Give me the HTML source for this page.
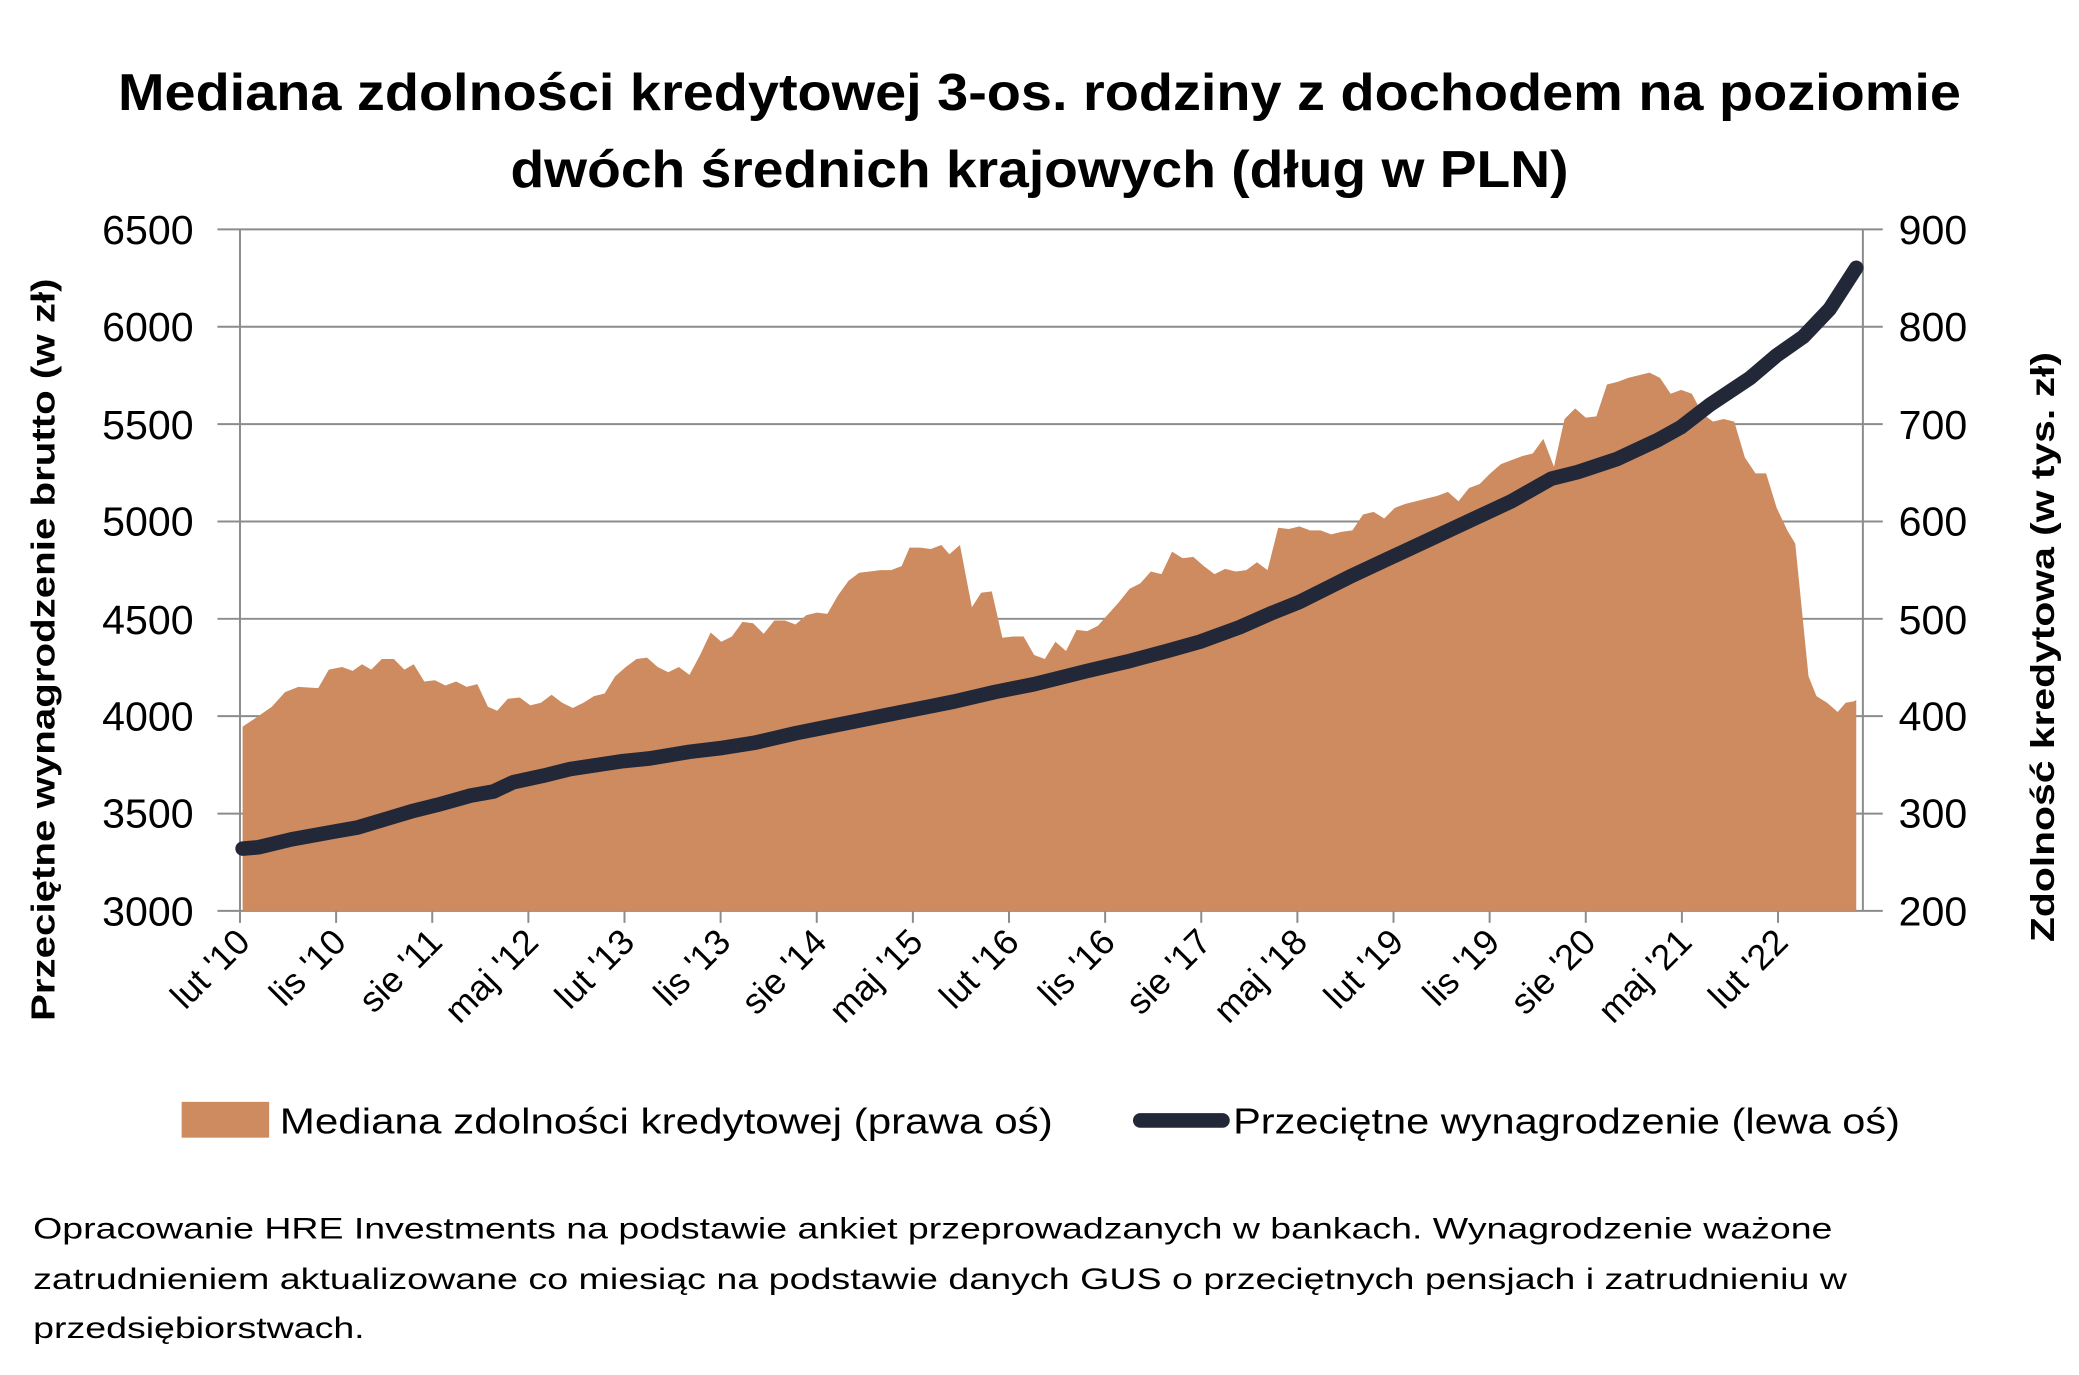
<!DOCTYPE html>
<html><head><meta charset="utf-8"><style>
html,body{margin:0;padding:0;background:#fff}
svg{display:block}
text{font-family:"Liberation Sans",sans-serif;fill:#000}
</style></head><body>
<svg width="2079" height="1375" viewBox="0 0 1568 1037" preserveAspectRatio="none" xmlns="http://www.w3.org/2000/svg">
<text x="784" y="83" font-size="39" font-weight="bold" text-anchor="middle" textLength="1390" lengthAdjust="spacingAndGlyphs">Mediana zdolności kredytowej 3-os. rodziny z dochodem na poziomie</text>
<text x="784" y="141" font-size="39" font-weight="bold" text-anchor="middle" textLength="798" lengthAdjust="spacingAndGlyphs">dwóch średnich krajowych (dług w PLN)</text>
<g stroke="#8c8c8c" stroke-width="1.5">
<line x1="164" y1="173" x2="1420" y2="173"/><line x1="164" y1="246.4" x2="1420" y2="246.4"/><line x1="164" y1="319.9" x2="1420" y2="319.9"/><line x1="164" y1="393.3" x2="1420" y2="393.3"/><line x1="164" y1="466.7" x2="1420" y2="466.7"/><line x1="164" y1="540.1" x2="1420" y2="540.1"/><line x1="164" y1="613.6" x2="1420" y2="613.6"/><line x1="164" y1="687" x2="1420" y2="687"/>
<line x1="181" y1="173" x2="181" y2="696"/><line x1="1405" y1="173" x2="1405" y2="687"/>
</g>
<g stroke="#8c8c8c" stroke-width="1.5">
<line x1="253.5" y1="687" x2="253.5" y2="696"/><line x1="326" y1="687" x2="326" y2="696"/><line x1="398.5" y1="687" x2="398.5" y2="696"/><line x1="471" y1="687" x2="471" y2="696"/><line x1="543.5" y1="687" x2="543.5" y2="696"/><line x1="616" y1="687" x2="616" y2="696"/><line x1="688.5" y1="687" x2="688.5" y2="696"/><line x1="761" y1="687" x2="761" y2="696"/><line x1="833.5" y1="687" x2="833.5" y2="696"/><line x1="906" y1="687" x2="906" y2="696"/><line x1="978.5" y1="687" x2="978.5" y2="696"/><line x1="1051" y1="687" x2="1051" y2="696"/><line x1="1123.5" y1="687" x2="1123.5" y2="696"/><line x1="1196" y1="687" x2="1196" y2="696"/><line x1="1268.5" y1="687" x2="1268.5" y2="696"/><line x1="1341" y1="687" x2="1341" y2="696"/>
</g>
<polygon fill="#cd8b5f" points="183,687 183,548 195,540 205,533 215,522 225,518 240,519 248,505 258,503 266,506 273,501 280,505 288,497 297,497 305,505 312,501 320,514 328,513 336,517 344,514 352,518 360,516 368,533 375,536 383,527 392,526 400,532 408,530 416,524 424,530 432,534 440,530 448,525 456,523 464,510 472,503 480,497 488,496 496,503 504,507 512,503 520,509 528,494 536,477 544,484 552,480 560,469 568,470 576,478 584,468 592,468 600,471 608,464 616,462 624,463 632,449 640,438 648,432 656,431 664,430 672,430 680,427 686,413 694,413 702,414 710,411 716,418 724,411 733,458 740,447 748,446 756,481 764,480 772,480 780,494 788,497 796,484 804,491 812,475 820,476 828,472 836,463 844,454 852,444 860,440 868,431 876,433 884,416 892,421 900,420 908,427 916,433 924,429 932,431 940,430 948,424 956,430 964,398 972,399 980,397 988,400 996,400 1004,403 1012,401 1020,400 1028,388 1036,386 1044,391 1052,383 1060,380 1068,378 1076,376 1084,374 1092,371 1100,378 1108,368 1116,365 1124,357 1132,350 1140,347 1148,344 1156,342 1164,331 1172,352 1180,316 1188,308 1196,315 1204,314 1212,290 1220,288 1228,285 1236,283 1244,281 1252,285 1260,297 1268,294 1276,297 1284,312 1292,318 1300,316 1308,318 1316,345 1324,357 1332,357 1340,383 1348,400 1354,410 1360,470 1364,510 1370,525 1378,530 1386,537 1392,530 1398,529 1400,528 1400,687"/>
<polyline fill="none" stroke="#222838" stroke-width="11" stroke-linecap="round" stroke-linejoin="round" points="183,640 195,639 220,633 253,627 270,624 290,618 310,612 330,607 355,600 372,597 387,590 410,585 430,580 450,577 470,574 490,572 520,567 545,564 570,560 600,553 620,549 650,543 680,537 700,533 720,529 750,522 780,516 820,506 850,499 880,491 905,484 935,473 960,462 980,454 1000,444 1020,434 1050,420 1080,406 1110,392 1140,378 1170,361 1190,356 1220,346 1250,332 1268,322 1290,305 1320,285 1340,268 1360,254 1380,233 1400,202"/>
<g font-size="31" text-anchor="end">
<text x="146" y="184">6500</text><text x="146" y="257">6000</text><text x="146" y="331">5500</text><text x="146" y="404">5000</text><text x="146" y="478">4500</text><text x="146" y="551">4000</text><text x="146" y="624">3500</text><text x="146" y="698">3000</text>
</g>
<g font-size="31">
<text x="1432" y="184">900</text><text x="1432" y="257">800</text><text x="1432" y="331">700</text><text x="1432" y="404">600</text><text x="1432" y="478">500</text><text x="1432" y="551">400</text><text x="1432" y="624">300</text><text x="1432" y="698">200</text>
</g>
<text transform="translate(41,490) rotate(-90)" font-size="25" font-weight="bold" text-anchor="middle" textLength="560" lengthAdjust="spacingAndGlyphs">Przeciętne wynagrodzenie brutto (w zł)</text>
<text transform="translate(1549,488) rotate(-90)" font-size="25" font-weight="bold" text-anchor="middle" textLength="445" lengthAdjust="spacingAndGlyphs">Zdolność kredytowa (w tys. zł)</text>
<g font-size="27" text-anchor="end">
<text transform="translate(190,712) rotate(-45)">lut '10</text>
<text transform="translate(262.5,712) rotate(-45)">lis '10</text>
<text transform="translate(335,712) rotate(-45)">sie '11</text>
<text transform="translate(407.5,712) rotate(-45)">maj '12</text>
<text transform="translate(480,712) rotate(-45)">lut '13</text>
<text transform="translate(552.5,712) rotate(-45)">lis '13</text>
<text transform="translate(625,712) rotate(-45)">sie '14</text>
<text transform="translate(697.5,712) rotate(-45)">maj '15</text>
<text transform="translate(770,712) rotate(-45)">lut '16</text>
<text transform="translate(842.5,712) rotate(-45)">lis '16</text>
<text transform="translate(915,712) rotate(-45)">sie '17</text>
<text transform="translate(987.5,712) rotate(-45)">maj '18</text>
<text transform="translate(1060,712) rotate(-45)">lut '19</text>
<text transform="translate(1132.5,712) rotate(-45)">lis '19</text>
<text transform="translate(1205,712) rotate(-45)">sie '20</text>
<text transform="translate(1277.5,712) rotate(-45)">maj '21</text>
<text transform="translate(1350,712) rotate(-45)">lut '22</text>
</g>
<rect x="137" y="831" width="66" height="27" fill="#cd8b5f"/>
<text x="211" y="855" font-size="27" textLength="583" lengthAdjust="spacingAndGlyphs">Mediana zdolności kredytowej (prawa oś)</text>
<line x1="860" y1="845" x2="922" y2="845" stroke="#222838" stroke-width="11" stroke-linecap="round"/>
<text x="930" y="855" font-size="27" textLength="503" lengthAdjust="spacingAndGlyphs">Przeciętne wynagrodzenie (lewa oś)</text>
<g font-size="22">
<text x="25" y="934" textLength="1357" lengthAdjust="spacingAndGlyphs">Opracowanie HRE Investments na podstawie ankiet przeprowadzanych w bankach. Wynagrodzenie ważone</text>
<text x="25" y="972" textLength="1368" lengthAdjust="spacingAndGlyphs">zatrudnieniem aktualizowane co miesiąc na podstawie danych GUS o przeciętnych pensjach i zatrudnieniu w</text>
<text x="25" y="1009" textLength="250" lengthAdjust="spacingAndGlyphs">przedsiębiorstwach.</text>
</g>
</svg>
</body></html>
